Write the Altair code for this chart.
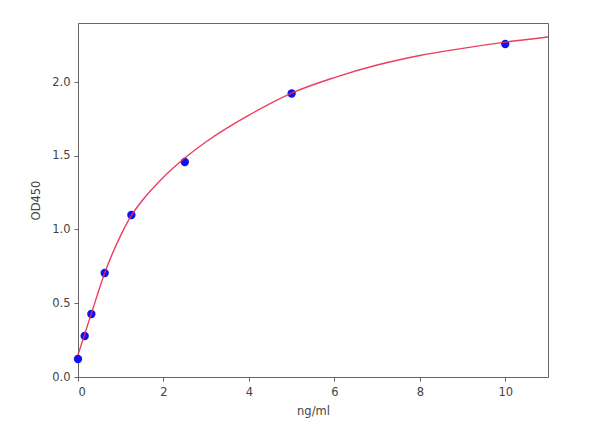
import altair as alt
import pandas as pd

# measured standards
conc = [0, 0.156, 0.3125, 0.625, 1.25, 2.5, 5, 10]
od = [0.122, 0.278, 0.427, 0.705, 1.098, 1.458, 1.922, 2.258]

# fitted curve
curve_x = [0, 0.156, 0.3125, 0.625, 1.0, 1.25, 1.5, 2.0, 2.5, 3, 4, 5, 6, 7, 8, 9, 10, 11]
curve_y = [0.15, 0.29, 0.43, 0.705, 0.96, 1.095, 1.195, 1.355, 1.485, 1.595, 1.775, 1.925, 2.03, 2.115, 2.18, 2.228, 2.27, 2.305]

x_ticks = [0, 2, 4, 6, 8, 10]
y_ticks = [0.0, 0.5, 1.0, 1.5, 2.0]

pts = pd.DataFrame({"x": conc, "y": od})
cur = pd.DataFrame({"x": curve_x, "y": curve_y})

xs = alt.Scale(domain=[0, 11], nice=False, zero=False)
ys = alt.Scale(domain=[0, 2.4], nice=False, zero=False)

xax = alt.Axis(values=x_ticks, title="ng/ml", grid=False, format="d",
               titlePadding=8, labelPadding=5)
yax = alt.Axis(values=y_ticks, title="OD450", grid=False, format=".1f",
               titlePadding=10, labelPadding=4)

points = alt.Chart(pts).mark_circle(size=70, color="#1010f5", opacity=1).encode(
    x=alt.X("x:Q", scale=xs, axis=xax),
    y=alt.Y("y:Q", scale=ys, axis=yax),
)

line = alt.Chart(cur).mark_line(color="#e8294f", strokeWidth=1.4, interpolate="monotone", opacity=0.9).encode(
    x=alt.X("x:Q", scale=xs),
    y=alt.Y("y:Q", scale=ys),
)

chart = alt.layer(points, line).properties(
    width=470, height=354,
    autosize=alt.AutoSizeParams(type="none"),
    padding={"left": 70, "top": 15, "right": 30, "bottom": 45},
).configure_view(
    stroke="#666666", strokeWidth=1
).configure_axis(
    labelFont="DejaVu Sans", titleFont="DejaVu Sans",
    labelFontSize=11.5, titleFontSize=11.5,
    labelColor="#444444", titleColor="#444444",
    titleFontWeight="normal",
    domainColor="#666666", tickColor="#666666",
    tickSize=4, tickWidth=1, domainWidth=1,
)

chart.save("out.html", embed_options={"renderer": "svg", "actions": False})
